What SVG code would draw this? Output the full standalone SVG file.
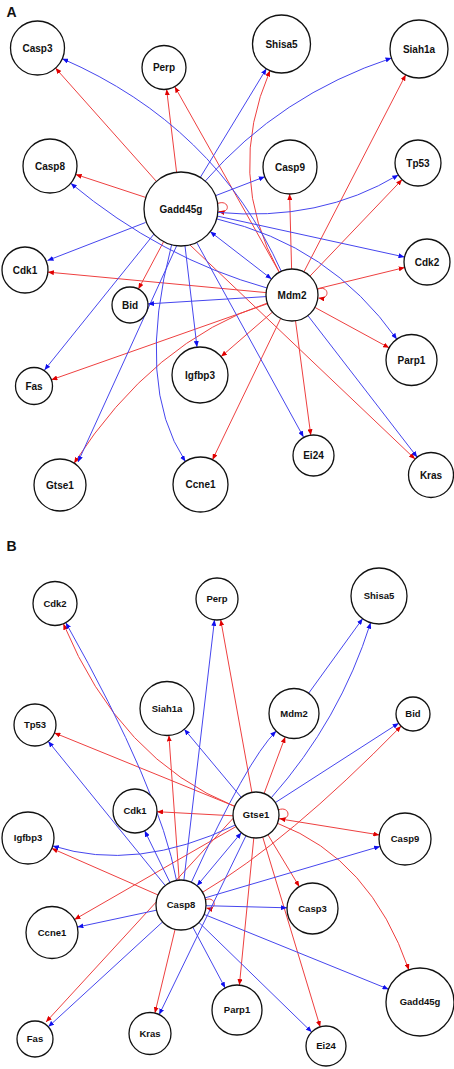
<svg xmlns="http://www.w3.org/2000/svg" width="454" height="1069" viewBox="0 0 454 1069">
<defs>
<marker id="mr" viewBox="0 0 6 5" refX="6" refY="2.5" markerWidth="6" markerHeight="5" markerUnits="userSpaceOnUse" orient="auto"><path d="M0,0 L6,2.5 L0,5 z" fill="#e00000"/></marker>
<marker id="mb" viewBox="0 0 6 5" refX="6" refY="2.5" markerWidth="6" markerHeight="5" markerUnits="userSpaceOnUse" orient="auto"><path d="M0,0 L6,2.5 L0,5 z" fill="#1010ee"/></marker>
<marker id="mbs" viewBox="0 0 6 5" refX="6" refY="2.5" markerWidth="6" markerHeight="5" markerUnits="userSpaceOnUse" orient="auto-start-reverse"><path d="M0,0 L6,2.5 L0,5 z" fill="#1010ee"/></marker>
</defs>
<style>
.r{fill:none;stroke:#ee4040;stroke-width:1;marker-end:url(#mr)}
.b{fill:none;stroke:#4646ee;stroke-width:1;marker-end:url(#mb)}
.bb{fill:none;stroke:#4646ee;stroke-width:1;marker-end:url(#mb);marker-start:url(#mbs)}
.bn{fill:none;stroke:#4646ee;stroke-width:1}
circle{fill:#fff;stroke:#111;stroke-width:1.3}
text{font-family:"Liberation Sans",Arial,sans-serif;font-weight:bold;text-anchor:middle;fill:#111}
.ta text{font-size:10px}
.tb text{font-size:9.5px}
.pl{font-size:14px;text-anchor:start}
</style>
<rect width="454" height="1069" fill="#fff"/>
<text class="pl" x="6.5" y="17.3">A</text>
<text class="pl" x="6.5" y="550.7">B</text>

<g id="connectors-A">
<path class="r" d="M156.4,181.4 L55.5,68.1"/>
<path class="r" d="M176.6,172.3 L166.6,89.3"/>
<path class="r" d="M145.9,197.5 L75.7,174.4"/>
<path class="r" d="M163.6,241.7 L138.4,289.1"/>
<path class="r" d="M190,245 L415,459"/>
<path class="r" d="M266.1,292.6 L47.9,272.1"/>
<path class="r" d="M267.5,303.7 L51.4,379.8"/>
<path class="r" d="M267.3,303.1 Q153,341 74.1,463.2"/>
<path class="r" d="M272.4,312.1 L221.1,356.6"/>
<path class="r" d="M280.7,318.4 L212.5,459.7"/>
<path class="r" d="M295.5,320.8 L310.8,435.2"/>
<path class="r" d="M314.9,307.4 L389.1,347.8"/>
<path class="r" d="M317.2,288.8 L404.7,267.5"/>
<path class="r" d="M309.9,276.2 L402.1,179.6"/>
<path class="r" d="M303.9,271.9 L405.7,74.8"/>
<path class="r" d="M291.6,269 L289.6,194"/>
<path class="r" d="M279.3,272.3 Q225,175 270,70.6"/>
<path class="r" d="M279.3,272.3 L174.8,86.7"/>
<path class="r" d="M216.5,204 C229,198 232,214 218.5,211.5"/>
<path class="r" d="M317,289.5 C329,284 331,300 318.5,298"/>
<path class="b" d="M145.5,222.5 L47.5,260.5"/>
<path class="b" d="M200.3,177.4 L266.4,68.7"/>
<path class="b" d="M205.3,181 Q280,95 391.5,58.1"/>
<path class="b" d="M215.5,195.7 L264.8,176.7"/>
<path class="b" d="M217.8,212.4 Q320,222 398.3,174.9"/>
<path class="b" d="M217,216 L404.5,257"/>
<path class="bb" d="M210.2,231.6 L271.5,279"/>
<path class="b" d="M185,246 L197,347"/>
<path class="b" d="M171.6,244.8 Q135,385 185.4,461.5"/>
<path class="b" d="M177,245 L78,462"/>
<path class="b" d="M154,234 L44.5,370"/>
<path class="b" d="M197,243 L303.5,437"/>
<path class="b" d="M217,219 Q330,245 396.8,339.2"/>
<path class="b" d="M266,296.6 L148,303.9"/>
<path class="b" d="M307.9,315.6 L417.2,457.2"/>
<path class="b" d="M267,288 Q161.2,258.4 70.8,183.3"/>
<path class="b" d="M281.3,271.3 Q215,125 62.3,58.7"/>
</g>

<g class="ta">
<g id="A-Casp3"><circle cx="37.5" cy="48" r="27"/><text x="37.5" y="48" dy="0.35em">Casp3</text></g>
<g id="A-Perp"><circle cx="164" cy="67.5" r="22"/><text x="164" y="67.5" dy="0.35em">Perp</text></g>
<g id="A-Shisa5"><circle cx="281.5" cy="44" r="29"/><text x="281.5" y="44" dy="0.35em">Shisa5</text></g>
<g id="A-Siah1a"><circle cx="419" cy="49" r="29"/><text x="419" y="49" dy="0.35em">Siah1a</text></g>
<g id="A-Casp8"><circle cx="50" cy="166" r="27"/><text x="50" y="166" dy="0.35em">Casp8</text></g>
<g id="A-Gadd45g"><circle cx="181" cy="209" r="37"/><text x="181" y="209" dy="0.35em">Gadd45g</text></g>
<g id="A-Casp9"><circle cx="290" cy="167" r="27"/><text x="290" y="167" dy="0.35em">Casp9</text></g>
<g id="A-Tp53"><circle cx="418" cy="163" r="23"/><text x="418" y="163" dy="0.35em">Tp53</text></g>
<g id="A-Cdk1"><circle cx="25" cy="270" r="23"/><text x="25" y="270" dy="0.35em">Cdk1</text></g>
<g id="A-Cdk2"><circle cx="427" cy="262" r="23"/><text x="427" y="262" dy="0.35em">Cdk2</text></g>
<g id="A-Bid"><circle cx="130" cy="305" r="18"/><text x="130" y="305" dy="0.35em">Bid</text></g>
<g id="A-Mdm2"><circle cx="292" cy="295" r="26"/><text x="292" y="295" dy="0.35em">Mdm2</text></g>
<g id="A-Parp1"><circle cx="411.5" cy="360" r="25.5"/><text x="411.5" y="360" dy="0.35em">Parp1</text></g>
<g id="A-Fas"><circle cx="34" cy="386" r="18.5"/><text x="34" y="386" dy="0.35em">Fas</text></g>
<g id="A-Igfbp3"><circle cx="200" cy="375" r="28"/><text x="200" y="375" dy="0.35em">Igfbp3</text></g>
<g id="A-Ei24"><circle cx="313.5" cy="455.5" r="20.5"/><text x="313.5" y="455.5" dy="0.35em">Ei24</text></g>
<g id="A-Kras"><circle cx="431" cy="475" r="22.5"/><text x="431" y="475" dy="0.35em">Kras</text></g>
<g id="A-Gtse1"><circle cx="60" cy="485" r="26"/><text x="60" y="485" dy="0.35em">Gtse1</text></g>
<g id="A-Ccne1"><circle cx="200.5" cy="484.5" r="27.5"/><text x="200.5" y="484.5" dy="0.35em">Ccne1</text></g>
</g>

<g id="connectors-B">
<path class="r" d="M234.7,806.4 Q120,760 63.4,623.8"/>
<path class="r" d="M251.9,792.4 L220.7,619.7"/>
<path class="r" d="M234.7,806.3 L54.4,732.9"/>
<path class="r" d="M264.1,793.4 L285.2,736.9"/>
<path class="r" d="M233,815.8 L157,811.7"/>
<path class="r" d="M236.1,826.5 L74.5,919.5"/>
<path class="r" d="M233.2,818.2 L46,1022"/>
<path class="r" d="M267.9,834.7 L299.3,886.7"/>
<path class="r" d="M278.7,818.7 L379.3,834.9"/>
<path class="r" d="M277.5,823.3 Q370.5,859 408.9,969.9"/>
<path class="r" d="M253.8,837.9 L239.4,985.1"/>
<path class="r" d="M262.7,837 L320.2,1026.9"/>
<path class="r" d="M179.2,880.1 L168.9,735.4"/>
<path class="r" d="M158.1,895 L51.8,848.4"/>
<path class="r" d="M175.1,929.3 L154.9,1013.1"/>
<path class="r" d="M202.5,892.3 Q287.5,842 401.1,726.1"/>
<path class="r" d="M278,810 C290,805 292,821 279.5,818.5"/>
<path class="r" d="M205,900 C216,895 218,911 206.5,908"/>
<path class="b" d="M241.3,797.4 L184.3,729.2"/>
<path class="b" d="M271.2,797.8 Q340,720 370.6,622.7"/>
<path class="b" d="M275.3,802.6 L398.7,723.2"/>
<path class="b" d="M235.3,825 Q136.5,872.5 52.8,845.9"/>
<path class="b" d="M246,835.7 L159.2,1014.6"/>
<path class="bb" d="M241.3,832.7 L197,885.8"/>
<path class="b" d="M176.5,880.4 Q160,790 65.8,622.7"/>
<path class="b" d="M183.9,880.2 L214.5,619.9"/>
<path class="b" d="M165.3,885.6 L48.2,741.3"/>
<path class="b" d="M191.4,882.2 Q247,760 276.2,731.1"/>
<path class="b" d="M170,882.6 L144.7,830.8"/>
<path class="b" d="M156.5,910.2 L77.4,927.1"/>
<path class="b" d="M162.6,921.9 L48.3,1026.8"/>
<path class="b" d="M206,905.7 L287,907.8"/>
<path class="b" d="M205,897.9 L380.1,846.4"/>
<path class="b" d="M204.2,914.4 L388.5,989.2"/>
<path class="b" d="M192.8,927.1 L225.2,988"/>
<path class="b" d="M198.9,922.4 L311.7,1032.1"/>
<path class="b" d="M308.7,693.2 L362.6,618.7"/>
</g>

<g class="tb">
<g id="B-Cdk2"><circle cx="55" cy="603.5" r="22"/><text x="55" y="603.5" dy="0.35em">Cdk2</text></g>
<g id="B-Perp"><circle cx="217" cy="599" r="21"/><text x="217" y="599" dy="0.35em">Perp</text></g>
<g id="B-Shisa5"><circle cx="379" cy="596" r="28"/><text x="379" y="596" dy="0.35em">Shisa5</text></g>
<g id="B-Siah1a"><circle cx="167" cy="708.5" r="27"/><text x="167" y="708.5" dy="0.35em">Siah1a</text></g>
<g id="B-Tp53"><circle cx="35" cy="725" r="21"/><text x="35" y="725" dy="0.35em">Tp53</text></g>
<g id="B-Mdm2"><circle cx="294" cy="713.5" r="25"/><text x="294" y="713.5" dy="0.35em">Mdm2</text></g>
<g id="B-Bid"><circle cx="413" cy="714" r="17"/><text x="413" y="714" dy="0.35em">Bid</text></g>
<g id="B-Cdk1"><circle cx="135" cy="811" r="22"/><text x="135" y="811" dy="0.35em">Cdk1</text></g>
<g id="B-Gtse1"><circle cx="256" cy="815" r="23"/><text x="256" y="815" dy="0.35em">Gtse1</text></g>
<g id="B-Igfbp3"><circle cx="28" cy="838" r="26"/><text x="28" y="838" dy="0.35em">Igfbp3</text></g>
<g id="B-Casp9"><circle cx="405" cy="839" r="26"/><text x="405" y="839" dy="0.35em">Casp9</text></g>
<g id="B-Casp8"><circle cx="181" cy="905" r="25"/><text x="181" y="905" dy="0.35em">Casp8</text></g>
<g id="B-Casp3"><circle cx="312.5" cy="908.5" r="25.5"/><text x="312.5" y="908.5" dy="0.35em">Casp3</text></g>
<g id="B-Ccne1"><circle cx="52" cy="932.5" r="26"/><text x="52" y="932.5" dy="0.35em">Ccne1</text></g>
<g id="B-Gadd45g"><circle cx="420" cy="1002" r="34"/><text x="420" y="1002" dy="0.35em">Gadd45g</text></g>
<g id="B-Parp1"><circle cx="237" cy="1010" r="25"/><text x="237" y="1010" dy="0.35em">Parp1</text></g>
<g id="B-Kras"><circle cx="150" cy="1033.5" r="21"/><text x="150" y="1033.5" dy="0.35em">Kras</text></g>
<g id="B-Fas"><circle cx="35" cy="1039" r="18"/><text x="35" y="1039" dy="0.35em">Fas</text></g>
<g id="B-Ei24"><circle cx="326" cy="1046" r="20"/><text x="326" y="1046" dy="0.35em">Ei24</text></g>
</g>
</svg>
